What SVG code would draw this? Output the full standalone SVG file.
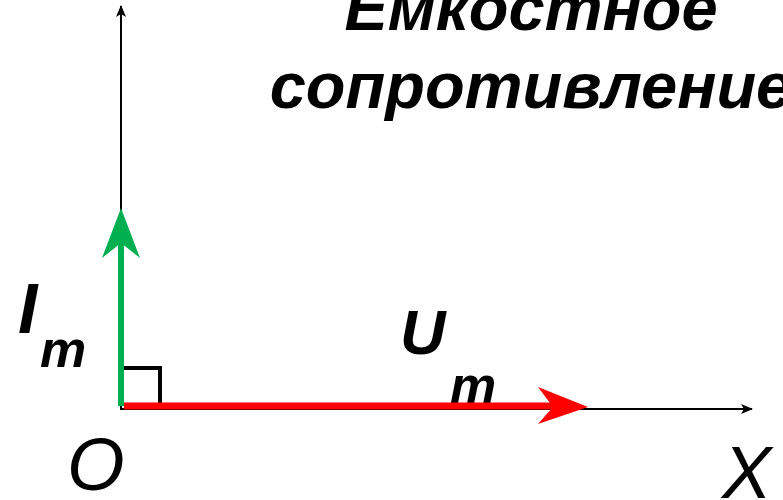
<svg xmlns="http://www.w3.org/2000/svg" width="783" height="500" viewBox="0 0 783 500">
<style>
.bi{font-family:"Liberation Sans",Arial,sans-serif;font-weight:bold;font-style:italic;fill:#000}
.it{font-family:"Liberation Sans",Arial,sans-serif;font-style:italic;fill:#000}
.ax{stroke:#000;stroke-width:2;fill:none}
</style>
<defs>
<marker id="ah" markerWidth="12" markerHeight="10" refX="11" refY="5" orient="auto" markerUnits="userSpaceOnUse">
<path d="M0,0 L12,5 L0,10 L3,5 Z" fill="#000"/>
</marker>
</defs>
<rect width="783" height="500" fill="#fff"/>
<g id="title">
<text class="bi" x="531" y="30" font-size="65" text-anchor="middle">Емкостное</text>
<text class="bi" x="531" y="108" font-size="65" text-anchor="middle">сопротивление</text>
</g>
<g id="connectors">
<line class="ax" x1="121" y1="409" x2="121" y2="6" marker-end="url(#ah)"/>
<line class="ax" x1="120" y1="409" x2="752" y2="409" marker-end="url(#ah)"/>
<path d="M121,368 H160 V404" stroke="#000" stroke-width="4" fill="none"/>
</g>
<g id="labels">
<text class="bi" x="18" y="333" font-size="70">I</text>
<text class="bi" x="40" y="367" font-size="52">m</text>
<text class="bi" x="400" y="354" font-size="63">U</text>
<text class="bi" x="450" y="403" font-size="52">m</text>
<text class="it" x="67" y="490" font-size="74">O</text>
<text class="it" x="722" y="498" font-size="74">X</text>
</g>
<g id="vector-I">
<line x1="121" y1="406" x2="121" y2="243" stroke="#00b050" stroke-width="6"/>
<path d="M121,208 L140,258 L121,243 L102,258 Z" fill="#00b050"/>
</g>
<g id="vector-U">
<line x1="124" y1="406" x2="556" y2="406" stroke="#ff0000" stroke-width="7"/>
<path d="M588,407 L538,424 L553,407 L538,387 Z" fill="#ff0000"/>
</g>
</svg>
